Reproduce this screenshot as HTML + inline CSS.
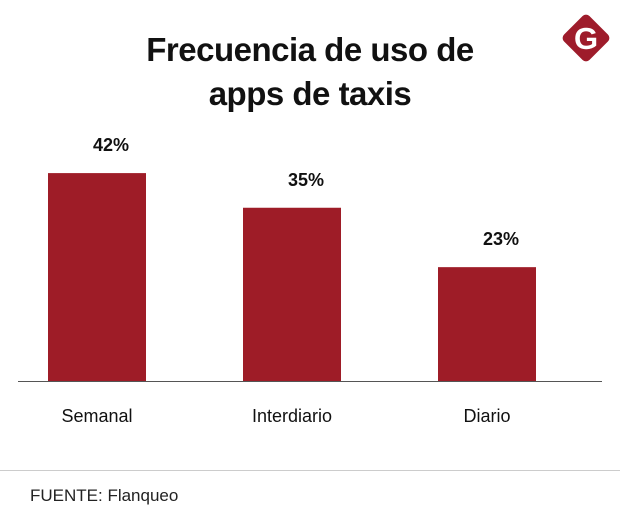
<!DOCTYPE html>
<html><head><meta charset="utf-8"><style>
body{margin:0;background:#fff;font-family:"Liberation Sans",sans-serif;}
#wrap{position:relative;width:620px;height:532px;overflow:hidden;}
.title{position:absolute;left:0;width:620px;top:28px;text-align:center;font-weight:bold;font-size:33px;line-height:44px;color:#111;letter-spacing:-0.5px;}
</style></head><body>
<div id="wrap">
<div class="title">Frecuencia de uso de<br>apps de taxis</div>
<svg width="620" height="532" style="position:absolute;left:0;top:0">
<g>
<rect x="568" y="20" width="36" height="36" rx="5" transform="rotate(45 586 38)" fill="#9e1c2b"/>
<text x="586" y="49" text-anchor="middle" font-family="Liberation Sans" font-weight="bold" font-size="31" fill="#fff">G</text>
</g>
<g id="bars"></g>
<line x1="18" x2="602" y1="381.5" y2="381.5" stroke="#555" stroke-width="1"/>
<line x1="0" x2="620" y1="470.5" y2="470.5" stroke="#ccc" stroke-width="1"/>
<text x="30" y="501" font-size="17" fill="#222">FUENTE: Flanqueo</text>
</svg>
</div>
<script>
const categories=["Semanal","Interdiario","Diario"];
const values=[42,35,23];
const valueLabels=["42%","35%","23%"];
const baseY=381, pxPer=4.95, bandStart=48, bandStep=195, barW=98;
function yScale(v){return baseY-v*pxPer;}
function xScale(i){return bandStart+i*bandStep;}
const g=document.getElementById('bars');
const ns="http://www.w3.org/2000/svg";
categories.forEach((c,i)=>{
  const r=document.createElementNS(ns,'rect');
  r.setAttribute('x',xScale(i));r.setAttribute('y',yScale(values[i]));
  r.setAttribute('width',barW);r.setAttribute('height',baseY-yScale(values[i]));
  r.setAttribute('fill','#9e1c27');
  
  
  g.appendChild(r);
  const t=document.createElementNS(ns,'text');
  t.setAttribute('x',xScale(i)+barW/2+14);t.setAttribute('y',yScale(values[i])-22);
  t.setAttribute('text-anchor','middle');t.setAttribute('font-weight','bold');t.setAttribute('font-size','18');t.setAttribute('fill','#111');
  t.textContent=valueLabels[i];
  
  
  g.appendChild(t);
  const l=document.createElementNS(ns,'text');
  l.setAttribute('x',xScale(i)+barW/2);l.setAttribute('y',422);
  l.setAttribute('text-anchor','middle');l.setAttribute('font-size','18');l.setAttribute('fill','#111');
  l.textContent=c;
  
  
  g.appendChild(l);
});
</script>
</body></html>
